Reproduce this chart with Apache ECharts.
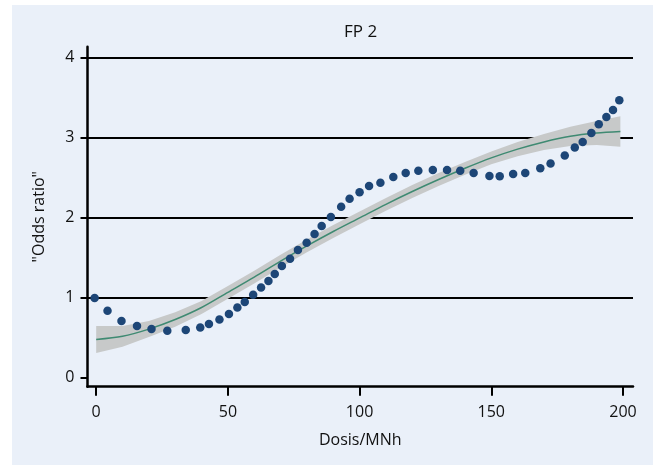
<!DOCTYPE html>
<html>
<head>
<meta charset="utf-8">
<script src="https://cdn.jsdelivr.net/npm/echarts@6/dist/echarts.min.js"></script>
<style>
html,body{margin:0;padding:0;background:#ffffff;}
#c{width:653px;height:465px;}
</style>
</head>
<body>
<div id="c"></div>
<script>
// Observed points ("Odds ratio" by dose)
const doseObs = [-0.6, 4.3, 9.6, 15.5, 21.0, 27.0, 34.0, 39.5, 42.8, 46.8, 50.4, 53.6, 56.4, 59.6, 62.6, 65.4, 67.8, 70.5, 73.6, 76.6, 79.9, 82.9, 85.6, 89.1, 93.0, 96.2, 100.0, 103.6, 107.9, 112.8, 117.5, 122.3, 127.8, 133.2, 138.2, 143.3, 149.3, 153.2, 158.3, 162.9, 168.6, 172.5, 177.9, 181.7, 184.7, 188.0, 190.8, 193.7, 196.2, 198.6];
const oddsObs = [1.00, 0.84, 0.71, 0.65, 0.61, 0.59, 0.60, 0.63, 0.675, 0.73, 0.80, 0.88, 0.95, 1.04, 1.13, 1.21, 1.30, 1.40, 1.49, 1.60, 1.69, 1.80, 1.90, 2.01, 2.14, 2.24, 2.32, 2.40, 2.44, 2.51, 2.56, 2.59, 2.60, 2.60, 2.59, 2.56, 2.525, 2.52, 2.55, 2.56, 2.62, 2.68, 2.78, 2.88, 2.95, 3.06, 3.17, 3.26, 3.35, 3.47];

// Fitted curve and confidence band
const doseFit = [0, 10, 20, 30, 40, 50, 60, 70, 80, 90, 100, 110, 120, 130, 140, 150, 160, 170, 180, 190, 199];
const oddsFit = [0.48, 0.52, 0.61, 0.73, 0.88, 1.07, 1.26, 1.46, 1.65, 1.83, 2.00, 2.17, 2.33, 2.48, 2.62, 2.75, 2.86, 2.95, 3.02, 3.06, 3.08];
const oddsLow = [0.31, 0.39, 0.51, 0.64, 0.80, 0.99, 1.18, 1.38, 1.57, 1.75, 1.92, 2.09, 2.25, 2.40, 2.54, 2.67, 2.77, 2.85, 2.90, 2.91, 2.89];
const oddsHigh = [0.65, 0.65, 0.71, 0.82, 0.96, 1.15, 1.34, 1.54, 1.73, 1.91, 2.08, 2.25, 2.41, 2.56, 2.70, 2.83, 2.95, 3.05, 3.14, 3.21, 3.27];

// Axes
const xTicks = [0, 50, 100, 150, 200];
const yTicks = [0, 1, 2, 3, 4];
const yGrid = [1, 2, 3, 4];

const FONT = 'Open Sans';
const chart = echarts.init(document.getElementById('c'), null, {renderer: 'canvas'});

const option = {
  backgroundColor: 'transparent',
  animation: false,
  graphic: [{
    type: 'rect', z: -10, silent: true,
    shape: {x: 12, y: 5, width: 641, height: 460},
    style: {fill: '#eaf0f9'}
  }],
  title: {
    text: 'FP 2',
    left: 339, top: 19,
    textStyle: {fontFamily: FONT, fontSize: 17, fontWeight: 'normal', color: '#111'}
  },
  grid: {left: 87.5, right: 20, top: 46.7, bottom: 78.3, containLabel: false},
  xAxis: {
    type: 'value', min: -3.3, max: 203.8,
    name: 'Dosis/MNh', nameLocation: 'middle', nameGap: 46,
    nameTextStyle: {fontFamily: FONT, fontSize: 16, color: '#111'},
    axisLine: {show: true, onZero: false, lineStyle: {color: '#000', width: 2.5}},
    axisTick: {show: true, length: 9, customValues: xTicks, lineStyle: {color: '#000', width: 2}},
    axisLabel: {customValues: xTicks, margin: 18, fontFamily: FONT, fontSize: 16, color: '#111'},
    splitLine: {show: false}
  },
  yAxis: {
    type: 'value', min: -0.11, max: 4.14,
    name: '"Odds ratio"', nameLocation: 'middle', nameGap: 40,
    nameTextStyle: {fontFamily: FONT, fontSize: 16, color: '#111'},
    axisLine: {show: true, onZero: false, lineStyle: {color: '#000', width: 2.5}},
    axisTick: {show: true, length: 7, customValues: yTicks, lineStyle: {color: '#000', width: 2}},
    axisLabel: {customValues: yTicks, margin: 13, fontFamily: FONT, fontSize: 16, color: '#111'},
    splitLine: {show: false}
  },
  series: [
    {
      type: 'custom', z: 10, silent: true,
      data: [[doseFit[0], oddsFit[0]]],
      renderItem: function (params, api) {
        const pts = [];
        for (let i = 0; i < doseFit.length; i++) pts.push(api.coord([doseFit[i], oddsHigh[i]]));
        for (let i = doseFit.length - 1; i >= 0; i--) pts.push(api.coord([doseFit[i], oddsLow[i]]));
        return {type: 'polygon', shape: {points: pts, smooth: 0}, style: {fill: '#c7c9c9'}};
      },
      markLine: {
        silent: true, symbol: ['none', 'none'],
        label: {show: false},
        lineStyle: {color: '#000', width: 2, type: 'solid'},
        emphasis: {disabled: true},
        data: yGrid.map(v => ({yAxis: v}))
      }
    },
    {
      type: 'line', z: 11, silent: true, smooth: 0.3, symbol: 'none',
      lineStyle: {color: '#3f8a72', width: 1.5},
      data: doseFit.map((x, i) => [x, oddsFit[i]])
    },
    {
      type: 'scatter', z: 12, silent: true, symbolSize: 8.5,
      itemStyle: {color: '#1d4677', opacity: 1},
      data: doseObs.map((x, i) => [x, oddsObs[i]])
    }
  ]
};
chart.setOption(option);
</script>
</body>
</html>
